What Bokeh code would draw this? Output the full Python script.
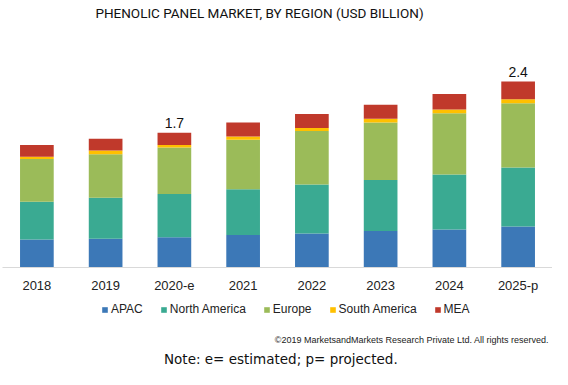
from bokeh.plotting import figure
from bokeh.layouts import column
from bokeh.models import Label, Range1d, FactorRange, ColumnDataSource, Legend, LegendItem
from bokeh.core.properties import value
from bokeh.embed import file_html
from bokeh.resources import INLINE

years = ["2018", "2019", "2020-e", "2021", "2022", "2023", "2024", "2025-p"]
regions = ["APAC", "North America", "Europe", "South America", "MEA"]
apac = [0.36, 0.37, 0.39, 0.42, 0.44, 0.47, 0.49, 0.53]
north_america = [0.49, 0.53, 0.56, 0.59, 0.63, 0.66, 0.71, 0.76]
europe = [0.55, 0.56, 0.60, 0.64, 0.69, 0.74, 0.79, 0.83]
south_america = [0.03, 0.05, 0.03, 0.04, 0.04, 0.05, 0.05, 0.05]
mea = [0.15, 0.15, 0.16, 0.18, 0.18, 0.18, 0.20, 0.23]
label_years = ["2020-e", "2025-p"]
colors = ["#3c78b7", "#3aaa92", "#9bbb59", "#ffc000", "#c0392b"]

# ---- layout constants (pixels) ----
W = 552
H1, H2 = 297, 72
BL, BB = 2, 30
PXU = 77.5                     # pixels per USD billion
FH = H1 - BB                   # frame height of the chart
YMAX = FH / PXU
FW = W - BL
nx = len(years)

data = {"year": years, "APAC": apac, "North America": north_america,
        "Europe": europe, "South America": south_america, "MEA": mea}
src = ColumnDataSource(data)
xr = FactorRange(*years)

p = figure(x_range=xr, y_range=Range1d(0, YMAX),
           width=W, height=H1, output_backend="svg", toolbar_location=None,
           y_axis_location=None, min_border_left=BL, min_border_right=0,
           min_border_top=0, min_border_bottom=BB, outline_line_color=None)
p.background_fill_color = "white"
p.border_fill_color = "white"

rs = p.vbar_stack(regions, x="year", width=0.49, source=src, color=colors,
                  line_color=None)

p.xgrid.visible = False
p.ygrid.visible = False
ax = p.xaxis[0]
ax.axis_line_color = "#d9d9d9"
ax.axis_line_width = 1
ax.major_tick_line_color = None
ax.minor_tick_line_color = None
ax.major_tick_out = 0
ax.major_tick_in = 0
ax.major_label_standoff = 10
ax.major_label_text_font = "Liberation Sans"
ax.major_label_text_font_size = "13px"
ax.major_label_text_color = "#222222"

totals = [a + b + c + d + e for a, b, c, d, e in
          zip(apac, north_america, europe, south_america, mea)]
lx = [y for y in years if y in label_years]
ly = [t for y, t in zip(years, totals) if y in label_years]
lt = ["%.1f" % t for t in ly]
p.text(x=lx, y=ly, text=lt, text_align="center", text_baseline="bottom",
       y_offset=-5, text_font=value("Liberation Sans"), text_font_size="14px",
       text_color="#111111")


def cx(px):
    return (px - BL) / FW * nx


def cy(py):
    return (FH - py) / PXU


p.add_layout(Label(x=cx(259), y=cy(12),
                   text="PHENOLIC PANEL MARKET, BY REGION (USD BILLION)",
                   text_align="center", text_baseline="middle",
                   text_font="Roboto", text_font_size="13.5px",
                   text_color="#111111"))

# ---- lower strip: legend, copyright, note ----
q = figure(x_range=xr, y_range=Range1d(0, H2), width=W, height=H2,
           output_backend="svg", toolbar_location=None,
           x_axis_location=None, y_axis_location=None,
           min_border_left=BL, min_border_right=0, min_border_top=0,
           min_border_bottom=0, outline_line_color=None)
q.xgrid.visible = False
q.ygrid.visible = False
q.background_fill_color = "white"
q.border_fill_color = "white"

# legend keys come from the same series (renderers hidden in this strip)
ks = q.vbar_stack(regions, x="year", width=0.49, source=src, color=colors,
                  line_color=None)
for k in ks:
    k.visible = False

legend = Legend(items=[LegendItem(label=r, renderers=[k]) for r, k in zip(regions, ks)],
                orientation="horizontal", location=(99, H2 - 19),
                glyph_width=7, glyph_height=7, label_standoff=3, spacing=17,
                label_height=14, label_text_font="Liberation Sans",
                label_text_font_size="12px", label_text_color="#222222",
                border_line_color=None, background_fill_alpha=0,
                padding=0, margin=0, click_policy="none")
q.add_layout(legend, "center")

q.add_layout(Label(x=cx(551), y=H2 - 42,
                   text="\u00a92019 MarketsandMarkets  Research Private Ltd. All rights reserved.",
                   text_align="right", text_baseline="middle",
                   text_font="Liberation Sans", text_font_size="9px",
                   text_color="#222222"))
q.add_layout(Label(x=cx(163.5), y=H2 - 61,
                   text="Note: e= estimated; p= projected.",
                   text_align="left", text_baseline="middle",
                   text_font="DejaVu Sans", text_font_size="13.5px",
                   text_color="#111111"))

layout = column(p, q, spacing=0)
open("out.html", "w").write(file_html(layout, INLINE))
